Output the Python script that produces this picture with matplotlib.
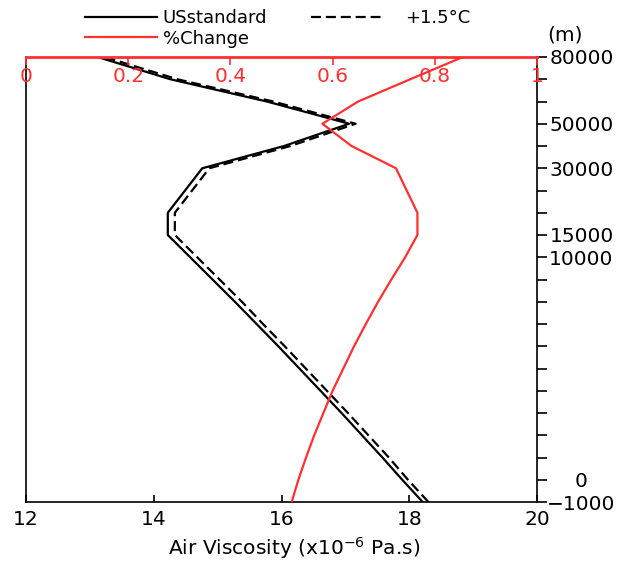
import numpy as np
import matplotlib.pyplot as plt

plt.rcParams['font.family'] = 'DejaVu Sans'

# model levels (m) - plotted equally spaced
heights = [-1000, 0, 1000, 2000, 3000, 4000, 5000, 6000, 7000, 8000, 9000,
           10000, 15000, 20000, 25000, 30000, 40000, 50000, 60000, 70000, 80000]
height_labels = {80000: '80000', 50000: '50000', 30000: '30000', 15000: '15000',
                 10000: '10000', 0: '0', -1000: '\u22121000'}

# air viscosity (x1e-6 Pa.s)
visc_std = [18.21, 17.89, 17.58, 17.26, 16.94, 16.61, 16.28, 15.95, 15.61, 15.27, 14.92,
            14.57, 14.22, 14.22, 14.49, 14.76, 16.04, 17.06, 15.77, 14.26, 13.12]
visc_warm = [18.30, 17.98, 17.68, 17.36, 17.04, 16.71, 16.38, 16.05, 15.71, 15.38, 15.03,
             14.68, 14.33, 14.33, 14.60, 14.87, 16.14, 17.16, 15.87, 14.37, 13.23]
# percent change
pct = [0.520, 0.533, 0.548, 0.564, 0.582, 0.600, 0.621, 0.642, 0.665, 0.689, 0.715,
       0.742, 0.766, 0.766, 0.745, 0.724, 0.637, 0.580, 0.650, 0.752, 0.855]

visc_ticks = [12, 14, 16, 18, 20]
pct_ticks = [0, 0.2, 0.4, 0.6, 0.8, 1]
pct_ticklabels = ['0', '0.2', '0.4', '0.6', '0.8', '1']

red = '#ff3030'
lev = np.arange(len(heights))


def fwd(h):
    return np.interp(h, heights, lev)


def inv(i):
    return np.interp(i, lev, heights)


fig = plt.figure(figsize=(6.29, 5.65), dpi=100)
ax = fig.add_axes([26/629, 1-502/565, (537-26)/629, (502-57)/565])
ax.set_yscale('function', functions=(fwd, inv))

l1, = ax.plot(visc_std, heights, color='k', lw=1.6)
l2, = ax.plot(visc_warm, heights, color='k', lw=1.6, dashes=(4.5, 2.2))
ax.set_xlim(12, 20)
ax.set_ylim(-1000, 80000)

ax.set_xticks(visc_ticks)
ax.set_xticklabels([str(v) for v in visc_ticks])
ax.tick_params(axis='x', direction='in', length=5, width=1.2, labelsize=14.5, pad=6)
ax.set_xlabel('Air Viscosity (x10$^{-6}$ Pa.s)', fontsize=14.5)
ax.xaxis.set_label_coords((294-26)/511, -0.075)

ax.yaxis.tick_right()
ax.set_yticks(heights)
ax.set_yticklabels([height_labels.get(h, '') for h in heights])
ax.tick_params(axis='y', direction='out', length=7, width=1.2, labelsize=14.5, pad=25)
plt.setp(ax.get_yticklabels(), ha='center')
ax.spines['top'].set_visible(False)
for s in ['left', 'right', 'bottom']:
    ax.spines[s].set_linewidth(1.2)

ax2 = ax.twiny()
l3, = ax2.plot(pct, heights, color=red, lw=1.6)
ax2.set_xlim(0, 1)
ax2.set_xticks(pct_ticks)
ax2.set_xticklabels(pct_ticklabels)
ax2.tick_params(axis='x', colors=red, direction='in', length=6, width=1.2,
                labelsize=14.5, pad=-21)
for s in ['left', 'right', 'bottom']:
    ax2.spines[s].set_visible(False)
ax2.spines['top'].set_color(red)
ax2.spines['top'].set_linewidth(2)

fig.text(565/629, 1-35/565, '(m)', ha='center', va='center', fontsize=14.5)

leg_kw = dict(loc='upper left', frameon=False, fontsize=13, handlelength=4.0,
              labelspacing=0.15, borderaxespad=0, borderpad=0)
leg1 = fig.legend([l1, l3], ['USstandard', '%Change'], handletextpad=0.3,
                  bbox_to_anchor=(85/629, 1-9/565), **leg_kw)
leg2 = fig.legend([l2], ['+1.5\u00b0C'], handletextpad=1.2,
                  bbox_to_anchor=(311/629, 1-9/565), **leg_kw)

fig.savefig('out.png', dpi=100)
